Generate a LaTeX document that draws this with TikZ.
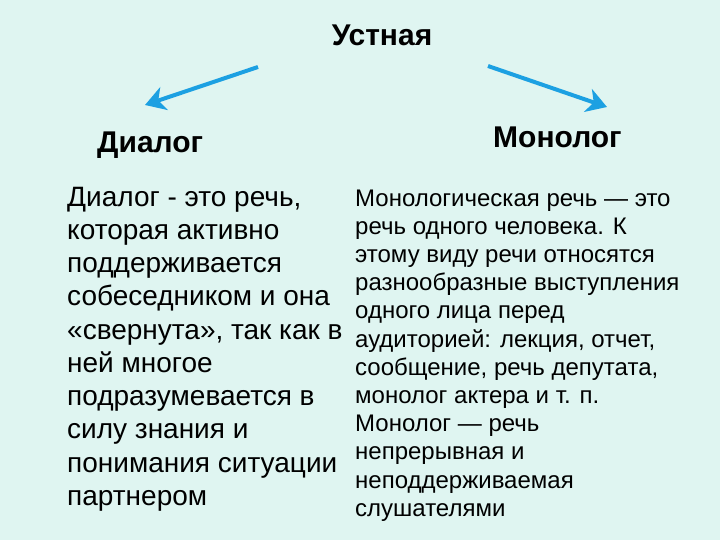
\documentclass[tikz,border=0pt]{standalone}
\usepackage{fontspec}
\setmainfont{Liberation Sans}
\usetikzlibrary{arrows.meta}
\definecolor{bgc}{RGB}{223,245,241}
\definecolor{arrc}{RGB}{28,160,226}
\tikzset{
  headtxt/.style={inner sep=0pt, font={\fontsize{30}{34}\selectfont\bfseries}},
  lefttxt/.style={inner sep=0pt, align=left, anchor=base west, font={\fontsize{28}{33.25}\selectfont}},
  righttxt/.style={inner sep=0pt, align=left, anchor=base west, font={\fontsize{24}{28.2}\selectfont}},
  bluearrow/.style={draw=arrc, line width=4pt, -{Stealth[length=20pt,width=24pt,inset=6pt]}}
}
\begin{document}
\begin{tikzpicture}[x=1pt,y=-1pt]
\fill[bgc] (0,0) rectangle (720,540);
\useasboundingbox (0,0) rectangle (720,540);
\node[headtxt, anchor=base] (title) at (382,46) {Устная};
\node[headtxt, anchor=base west] (dia) at (97,153) {Диалог};
\node[headtxt, anchor=base west] (mono) at (493,148) {Монолог};
\coordinate (l1) at (258,67);
\coordinate (l2) at (145,105);
\coordinate (r1) at (488,66);
\coordinate (r2) at (607,107);
\draw[bluearrow] (l1) -- (l2);
\draw[bluearrow] (r1) -- (r2);
\node[lefttxt] (ltext) at (67,505.25) {Диалог - это речь,\\которая активно\\поддерживается\\собеседником и она\\«свернута», так как в\\ней многое\\подразумевается в\\силу знания и\\понимания ситуации\\партнером};
\node[righttxt] (rtext) at (355,516.2) {Монологическая речь — это\\речь одного человека. К\\этому виду речи относятся\\разнообразные выступления\\одного лица перед\\аудиторией: лекция, отчет,\\сообщение, речь депутата,\\монолог актера и т. п.\\Монолог — речь\\непрерывная и\\неподдерживаемая\\слушателями};
\end{tikzpicture}
\end{document}
